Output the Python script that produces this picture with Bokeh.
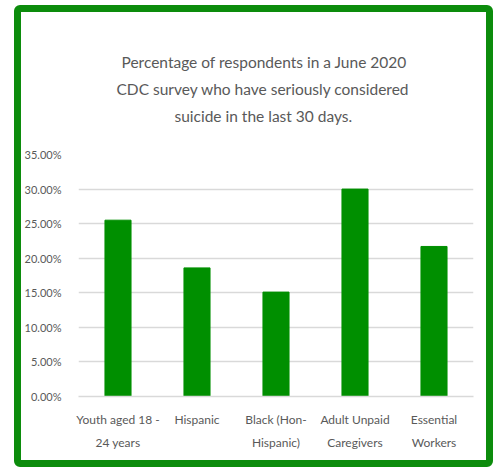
from bokeh.plotting import figure
from bokeh.models import Range1d, FactorRange, FixedTicker, NumeralTickFormatter, Title
from bokeh.embed import file_html
from bokeh.resources import INLINE

categories = ["Youth aged 18 -\n24 years", "Hispanic", "Black (Hon-\nHispanic)",
              "Adult Unpaid\nCaregivers", "Essential\nWorkers"]
values = [0.255, 0.186, 0.151, 0.300, 0.217]
y_ticks = [0.0, 0.05, 0.10, 0.15, 0.20, 0.25, 0.30, 0.35]
title_lines = ["Percentage of respondents in a June 2020",
               "CDC survey who have seriously considered",
               "suicide in the last 30 days."]
# left indent of each title line so that the block is centred on the whole card
title_offsets = [43, 38, 96]

FONT = "Lato"
GRAY = "#595959"
GREEN = "#008f00"

p = figure(
    x_range=FactorRange(*categories, range_padding=0),
    y_range=Range1d(0, 0.35),
    width=479, height=462,
    output_backend="svg", toolbar_location=None, tools="",
    min_border_left=52, min_border_right=27, min_border_top=142, min_border_bottom=78,
    outline_line_color=None,
    styles={"border": "7px solid #0c8c0c", "border-radius": "6px",
            "margin-left": "14px", "margin-top": "5px"},
)
p.title = None
# spacer between the chart area and the title block
p.add_layout(Title(text=" ", text_font=FONT, text_font_size="10px", standoff=12), "above")
for line, off in reversed(list(zip(title_lines, title_offsets))):
    p.add_layout(Title(text=line, align="left", offset=off, text_font=FONT,
                       text_font_size="15.5px", text_font_style="normal",
                       text_color=GRAY, standoff=7), "above")

p.vbar(x=categories, top=values, width=0.33, color=GREEN)

p.xgrid.grid_line_color = None
p.ygrid.grid_line_color = "#d9d9d9"
p.ygrid.grid_line_width = 1.5

p.yaxis.ticker = FixedTicker(ticks=y_ticks)
p.yaxis.formatter = NumeralTickFormatter(format="0.00%")
p.yaxis.axis_line_color = None
p.yaxis.major_tick_line_color = None
p.yaxis.minor_tick_line_color = None
p.yaxis.major_label_standoff = 11
p.yaxis.major_label_text_font = FONT
p.yaxis.major_label_text_font_size = "11px"
p.yaxis.major_label_text_color = GRAY

p.xaxis.axis_line_color = "#d9d9d9"
p.xaxis.axis_line_width = 1.5
p.xaxis.major_tick_line_color = None
p.xaxis.minor_tick_line_color = None
p.xaxis.major_label_standoff = 9
p.xaxis.major_label_text_font = FONT
p.xaxis.major_label_text_font_size = "12px"
p.xaxis.major_label_text_color = GRAY
p.xaxis.major_label_text_line_height = 1.57

open("out.html", "w").write(file_html(p, INLINE))
